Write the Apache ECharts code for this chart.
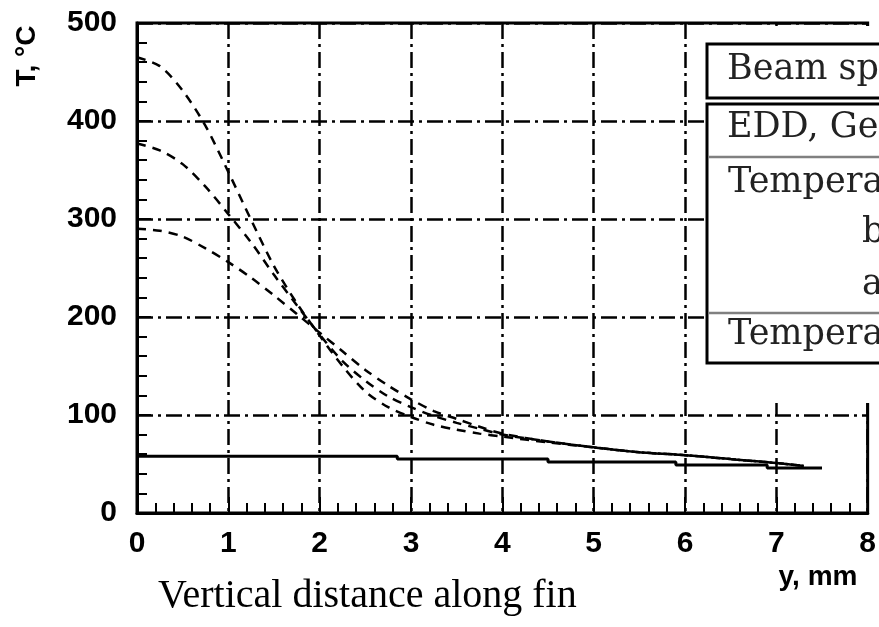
<!DOCTYPE html>
<html><head><meta charset="utf-8">
<script src="https://cdn.jsdelivr.net/npm/echarts@6/dist/echarts.min.js"></script>
<style>html,body{margin:0;padding:0;background:#fff}#c{width:879px;height:627px}</style>
</head><body><div id="c"></div>
<script>
// distance along fin, mm
const xValues = [0, 0.25, 0.5, 0.75, 1.0, 1.25, 1.5, 1.75, 2.0, 2.25, 2.5, 2.75, 3.0, 3.25, 3.5, 3.75, 4.0, 4.5, 5.0, 5.5, 6.0, 6.5, 7.0, 7.3];
// temperatures, °C (dashed curves)
const curveA = [465, 456, 431, 395, 348, 299, 252, 214, 181, 150, 124, 108, 98, 90, 85, 81, 78, 72, 67, 62, 59, 55, 51, 48];
const curveB = [377, 370, 356, 333, 305, 276, 243, 212, 182, 155, 135, 119, 108, 99, 92, 86, 80, 73, 67, 62, 59, 55, 51, 48];
const curveC = [290, 288, 282, 270, 256, 240, 222, 203, 184, 165, 146, 130, 116, 104, 96, 88, 81, 73, 67, 62, 59, 55, 51, 48];
// solid curve (stepped)
const solidX = [0, 2.85, 4.5, 5.9, 6.9, 7.5];
const solidY = [58, 55, 52, 49, 46, 46];
// axis ticks
const xTicks = [0, 1, 2, 3, 4, 5, 6, 7, 8];
const yTicks = [0, 100, 200, 300, 400, 500];
// table texts (cut by the picture edge)
const tableRows = ['Beam sp', 'EDD, Ge', 'Tempera', 'b', 'a', 'Tempera'];
const yAxisName = 'T, °C';
const xAxisName = 'y, mm';
const caption = 'Vertical distance along fin';

const chart = echarts.init(document.getElementById('c'), null, {renderer: 'canvas'});
const gridDash = [16, 5, 3, 5];
const labelFont = {fontFamily: 'Liberation Sans', fontWeight: 'bold', fontSize: 30, color: '#000'};

const dashedStyle = {color: '#000', width: 2.5, type: [9, 7]};
function dashed(vals) {
  return {type: 'line', data: xValues.map((x, i) => [x, vals[i]]), showSymbol: false, smooth: 0.3,
    lineStyle: dashedStyle, z: 5};
}

const rowY = [70, 128, 183, 233, 285, 335];
const rowX = [727, 727, 728, 862, 862, 728];
const serif = '35px "DejaVu Serif"';

chart.setOption({
  animation: false,
  backgroundColor: '#fff',
  grid: {left: 137, top: 23, right: 7, bottom: 114, show: true, borderColor: '#000', borderWidth: 3, backgroundColor: 'transparent'},
  xAxis: {
    type: 'value', min: xTicks[0], max: xTicks[xTicks.length - 1], interval: 1,
    axisLine: {show: true, lineStyle: {color: '#000', width: 3}},
    axisTick: {show: true, inside: true, length: 16, lineStyle: {color: '#000', width: 2}},
    minorTick: {show: true, splitNumber: 5, length: 10, lineStyle: {color: '#000', width: 2}},
    splitLine: {show: true, lineStyle: {color: '#000', width: 2.5, type: gridDash}},
    axisLabel: Object.assign({margin: 16, showMaxLabel: true, showMinLabel: true}, labelFont)
  },
  yAxis: {
    type: 'value', min: yTicks[0], max: yTicks[yTicks.length - 1], interval: 100,
    axisLine: {show: true, lineStyle: {color: '#000', width: 3}},
    axisTick: {show: true, inside: true, length: 14, lineStyle: {color: '#000', width: 2}},
    minorTick: {show: true, splitNumber: 5, length: 10, lineStyle: {color: '#000', width: 2}},
    splitLine: {show: true, lineStyle: {color: '#000', width: 2.5, type: gridDash}},
    axisLabel: Object.assign({margin: 20}, labelFont)
  },
  series: [
    dashed(curveA), dashed(curveB), dashed(curveC),
    {type: 'line', data: solidX.map((x, i) => [x, solidY[i]]), step: 'end', showSymbol: false,
     lineStyle: {color: '#000', width: 3}, z: 5}
  ],
  graphic: [
    {type: 'rect', z: 90, shape: {x: 707, y: 26, width: 180, height: 377}, style: {fill: '#fff', stroke: null}},
    {type: 'rect', z: 100, shape: {x: 707, y: 44, width: 200, height: 54}, style: {fill: '#fff', stroke: '#000', lineWidth: 3}},
    {type: 'rect', z: 100, shape: {x: 707, y: 104, width: 200, height: 259}, style: {fill: '#fff', stroke: '#000', lineWidth: 3}},
    {type: 'line', z: 101, shape: {x1: 708, y1: 157, x2: 879, y2: 157}, style: {stroke: '#808080', lineWidth: 2.5}},
    {type: 'line', z: 101, shape: {x1: 708, y1: 313, x2: 879, y2: 313}, style: {stroke: '#808080', lineWidth: 2.5}}
  ].concat(tableRows.map((t, i) => ({
    type: 'text', z: 102, x: rowX[i], y: rowY[i],
    style: {text: t, font: serif, fill: '#222', verticalAlign: 'middle', align: 'left'}
  }))).concat([
    {type: 'text', z: 102, x: 27, y: 56, rotation: Math.PI / 2, originX: 0, originY: 0,
     style: {text: yAxisName, font: 'bold 28px "Liberation Sans"', fill: '#000', align: 'center', verticalAlign: 'middle'}},
    {type: 'text', z: 102, x: 818, y: 577,
     style: {text: xAxisName, font: 'bold 28px "Liberation Sans"', fill: '#000', align: 'center', verticalAlign: 'middle'}},
    {type: 'text', z: 102, x: 158, y: 596,
     style: {text: caption, font: '40px "Liberation Serif"', fill: '#000', align: 'left', verticalAlign: 'middle'}}
  ])
});
</script></body></html>
